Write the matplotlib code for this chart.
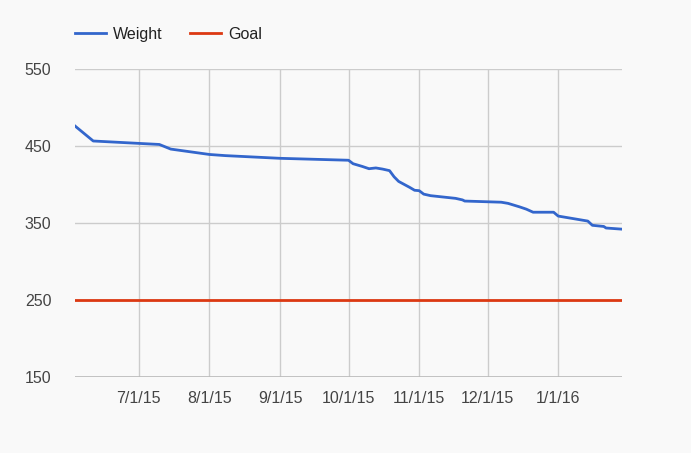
import matplotlib
matplotlib.use('Agg')
import matplotlib.pyplot as plt
import pandas as pd

plt.rcParams['font.family'] = ['Liberation Sans', 'DejaVu Sans']

# weigh-in dates and weights
dates = ['2015-06-03', '2015-06-11', '2015-07-10', '2015-07-15', '2015-08-01',
         '2015-08-08', '2015-09-01', '2015-10-01', '2015-10-03', '2015-10-07',
         '2015-10-09', '2015-10-10', '2015-10-13', '2015-10-16', '2015-10-19',
         '2015-10-21', '2015-10-23', '2015-10-28', '2015-10-30', '2015-11-01',
         '2015-11-03', '2015-11-06', '2015-11-17', '2015-11-20', '2015-11-21',
         '2015-12-07', '2015-12-10', '2015-12-15', '2015-12-18', '2015-12-21',
         '2015-12-30', '2016-01-01', '2016-01-14', '2016-01-16', '2016-01-21',
         '2016-01-22', '2016-01-29']
weight = [476, 456.5, 452, 446, 439,
          437.5, 434, 431.5, 427, 423.5,
          421.5, 420.5, 421.5, 420, 418,
          410, 404, 396, 392.5, 392,
          387.5, 385.5, 382, 380, 378.5,
          377, 375.5, 371, 368, 364,
          364, 359, 352.5, 347, 345.5,
          343.5, 342]
goal = 250

x_ticks = ['2015-07-01', '2015-08-01', '2015-09-01', '2015-10-01',
           '2015-11-01', '2015-12-01', '2016-01-01']
x_labels = ['7/1/15', '8/1/15', '9/1/15', '10/1/15', '11/1/15', '12/1/15', '1/1/16']
y_ticks = [150, 250, 350, 450, 550]

d = pd.to_datetime(dates)
bg = '#f9f9f9'

fig = plt.figure(figsize=(6.91, 4.53), dpi=100, facecolor=bg)
ax = fig.add_axes([75/691, 1-377/453, 547/691, 308/453], facecolor=bg)

ax.plot(d, weight, color='#3366cc', lw=2, label='Weight', solid_joinstyle='round')
ax.plot([d[0], d[-1]], [goal, goal], color='#dc3912', lw=2, label='Goal')

ax.set_xlim(d[0], d[-1])
ax.set_ylim(150, 550)
ax.set_yticks(y_ticks)
ax.set_xticks(pd.to_datetime(x_ticks))
ax.set_xticklabels(x_labels)
ax.grid(True, color='#cccccc', lw=1)
ax.set_axisbelow(True)
for s in ax.spines.values():
    s.set_visible(False)
ax.axhline(150, color='#bbbbbb', lw=1.2, zorder=1)
ax.tick_params(length=0, labelsize=11.5, labelcolor='#444444')
ax.tick_params(axis='y', pad=17)
ax.tick_params(axis='x', pad=10)

ax.legend(loc='center left', bbox_to_anchor=(0, 1 + 35/308), ncol=2, frameon=False,
          borderaxespad=0, borderpad=0, handlelength=1.95, handletextpad=0.45,
          columnspacing=1.7, prop={'size': 11.5}, labelcolor='#222222')

fig.savefig('out.png', dpi=100, facecolor=bg)
